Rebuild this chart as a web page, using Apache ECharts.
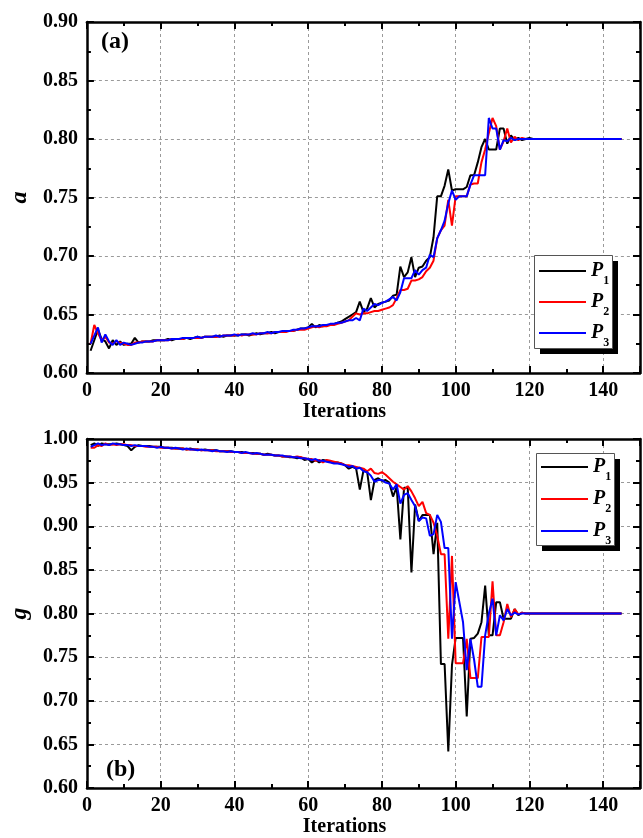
<!DOCTYPE html>
<html>
<head>
<meta charset="utf-8">
<script src="https://cdn.jsdelivr.net/npm/echarts@6/dist/echarts.min.js"></script>
<style>
  html, body { margin: 0; padding: 0; background: #fff; }
  #chart { width: 643px; height: 838px; }
</style>
</head>
<body>
<div id="chart"></div>
<script>
// Convergence of parameters a and g over the iterations for three runs P1, P2, P3.
const seriesNames = ['P1', 'P2', 'P3'];
const lineColors = ['#000000', '#ff0000', '#0000ff'];
const xTickLabels = [0, 20, 40, 60, 80, 100, 120, 140];

// (a) parameter a, iterations 1..145
const aP1 = [
  0.619, 0.628, 0.637, 0.629, 0.627, 0.621, 0.628, 0.624, 0.627, 0.624,
  0.625, 0.625, 0.630, 0.626, 0.627, 0.627, 0.627, 0.628, 0.628, 0.628,
  0.628, 0.629, 0.628, 0.629, 0.629, 0.629, 0.630, 0.629, 0.630, 0.631,
  0.630, 0.631, 0.631, 0.631, 0.631, 0.632, 0.631, 0.632, 0.632, 0.632,
  0.632, 0.633, 0.633, 0.632, 0.633, 0.634, 0.633, 0.634, 0.634, 0.635,
  0.634, 0.635, 0.635, 0.636, 0.636, 0.636, 0.637, 0.638, 0.638, 0.639,
  0.642, 0.639, 0.641, 0.640, 0.641, 0.641, 0.642, 0.643, 0.644, 0.646,
  0.648, 0.650, 0.652, 0.661, 0.652, 0.655, 0.664, 0.656, 0.659, 0.660,
  0.661, 0.662, 0.666, 0.667, 0.691, 0.682, 0.686, 0.699, 0.682, 0.690,
  0.691, 0.696, 0.699, 0.716, 0.751, 0.751, 0.760, 0.774, 0.756, 0.757,
  0.757, 0.757, 0.759, 0.769, 0.769, 0.780, 0.793, 0.800, 0.791, 0.791,
  0.791, 0.809, 0.809, 0.796, 0.803, 0.799, 0.801, 0.799, 0.800, 0.801,
  0.800, 0.800, 0.800, 0.800, 0.800, 0.800, 0.800, 0.800, 0.800, 0.800,
  0.800, 0.800, 0.800, 0.800, 0.800, 0.800, 0.800, 0.800, 0.800, 0.800,
  0.800, 0.800, 0.800, 0.800, 0.800
];
const aP2 = [
  0.625, 0.641, 0.634, 0.628, 0.631, 0.626, 0.625, 0.627, 0.626, 0.625,
  0.624, 0.624, 0.626, 0.626, 0.627, 0.627, 0.627, 0.627, 0.628, 0.628,
  0.628, 0.628, 0.629, 0.629, 0.629, 0.629, 0.630, 0.630, 0.630, 0.630,
  0.630, 0.631, 0.631, 0.631, 0.631, 0.631, 0.632, 0.632, 0.632, 0.632,
  0.633, 0.632, 0.633, 0.633, 0.633, 0.633, 0.634, 0.634, 0.634, 0.634,
  0.635, 0.635, 0.635, 0.635, 0.636, 0.636, 0.637, 0.637, 0.637, 0.638,
  0.639, 0.640, 0.639, 0.640, 0.640, 0.641, 0.641, 0.642, 0.643, 0.644,
  0.645, 0.648, 0.651, 0.650, 0.651, 0.651, 0.652, 0.653, 0.653, 0.654,
  0.655, 0.656, 0.658, 0.664, 0.671, 0.671, 0.672, 0.679, 0.679, 0.680,
  0.682, 0.687, 0.690, 0.696, 0.715, 0.722, 0.726, 0.748, 0.726, 0.751,
  0.751, 0.751, 0.751, 0.761, 0.762, 0.762, 0.780, 0.791, 0.805, 0.818,
  0.811, 0.791, 0.798, 0.809, 0.797, 0.802, 0.799, 0.801, 0.800, 0.800,
  0.800, 0.800, 0.800, 0.800, 0.800, 0.800, 0.800, 0.800, 0.800, 0.800,
  0.800, 0.800, 0.800, 0.800, 0.800, 0.800, 0.800, 0.800, 0.800, 0.800,
  0.800, 0.800, 0.800, 0.800, 0.800
];
const aP3 = [
  0.625, 0.632, 0.639, 0.626, 0.633, 0.627, 0.624, 0.628, 0.624, 0.626,
  0.625, 0.624, 0.625, 0.626, 0.626, 0.627, 0.627, 0.627, 0.628, 0.628,
  0.628, 0.628, 0.629, 0.629, 0.629, 0.630, 0.630, 0.630, 0.630, 0.631,
  0.630, 0.631, 0.631, 0.631, 0.632, 0.631, 0.632, 0.632, 0.632, 0.633,
  0.632, 0.633, 0.633, 0.633, 0.634, 0.633, 0.634, 0.634, 0.635, 0.634,
  0.635, 0.635, 0.636, 0.636, 0.636, 0.637, 0.637, 0.638, 0.638, 0.639,
  0.640, 0.640, 0.640, 0.641, 0.641, 0.642, 0.642, 0.643, 0.643, 0.644,
  0.645, 0.645, 0.647, 0.645, 0.655, 0.653, 0.656, 0.659, 0.658, 0.660,
  0.661, 0.663, 0.665, 0.662, 0.669, 0.681, 0.681, 0.681, 0.688, 0.684,
  0.688, 0.690, 0.701, 0.699, 0.715, 0.722, 0.730, 0.745, 0.756, 0.748,
  0.751, 0.751, 0.751, 0.761, 0.769, 0.769, 0.769, 0.769, 0.818, 0.809,
  0.809, 0.791, 0.799, 0.798, 0.801, 0.799, 0.800, 0.800, 0.800, 0.800,
  0.800, 0.800, 0.800, 0.800, 0.800, 0.800, 0.800, 0.800, 0.800, 0.800,
  0.800, 0.800, 0.800, 0.800, 0.800, 0.800, 0.800, 0.800, 0.800, 0.800,
  0.800, 0.800, 0.800, 0.800, 0.800
];

// (b) parameter g, iterations 1..145
const gP1 = [
  0.993, 0.995, 0.992, 0.995, 0.994, 0.994, 0.994, 0.995, 0.994, 0.993,
  0.992, 0.987, 0.991, 0.993, 0.992, 0.992, 0.992, 0.991, 0.991, 0.991,
  0.990, 0.990, 0.990, 0.989, 0.989, 0.989, 0.988, 0.989, 0.988, 0.988,
  0.987, 0.988, 0.987, 0.987, 0.987, 0.986, 0.986, 0.986, 0.986, 0.985,
  0.985, 0.985, 0.984, 0.984, 0.984, 0.983, 0.983, 0.982, 0.983, 0.982,
  0.981, 0.981, 0.980, 0.980, 0.979, 0.979, 0.978, 0.979, 0.976, 0.977,
  0.973, 0.976, 0.973, 0.976, 0.975, 0.974, 0.973, 0.973, 0.972, 0.970,
  0.966, 0.968, 0.966, 0.942, 0.964, 0.962, 0.930, 0.953, 0.955, 0.952,
  0.953, 0.950, 0.934, 0.945, 0.885, 0.944, 0.944, 0.847, 0.925, 0.906,
  0.913, 0.913, 0.913, 0.868, 0.904, 0.742, 0.742, 0.642, 0.741, 0.772,
  0.772, 0.772, 0.682, 0.771, 0.772, 0.777, 0.790, 0.832, 0.775, 0.775,
  0.813, 0.813, 0.794, 0.794, 0.794, 0.805, 0.798, 0.801, 0.800, 0.800,
  0.800, 0.800, 0.800, 0.800, 0.800, 0.800, 0.800, 0.800, 0.800, 0.800,
  0.800, 0.800, 0.800, 0.800, 0.800, 0.800, 0.800, 0.800, 0.800, 0.800,
  0.800, 0.800, 0.800, 0.800, 0.800
];
const gP2 = [
  0.990, 0.990, 0.993, 0.992, 0.995, 0.993, 0.994, 0.993, 0.994, 0.994,
  0.993, 0.993, 0.992, 0.992, 0.992, 0.991, 0.991, 0.991, 0.991, 0.990,
  0.990, 0.990, 0.989, 0.989, 0.989, 0.989, 0.988, 0.988, 0.988, 0.988,
  0.987, 0.987, 0.987, 0.987, 0.986, 0.986, 0.986, 0.986, 0.985, 0.985,
  0.985, 0.984, 0.984, 0.984, 0.983, 0.983, 0.983, 0.982, 0.982, 0.982,
  0.981, 0.981, 0.980, 0.980, 0.980, 0.979, 0.980, 0.979, 0.978, 0.977,
  0.977, 0.975, 0.976, 0.973, 0.976, 0.975, 0.974, 0.973, 0.972, 0.970,
  0.970, 0.969, 0.968, 0.967, 0.966, 0.963, 0.966, 0.961, 0.960, 0.962,
  0.959, 0.955, 0.951, 0.948, 0.945, 0.942, 0.946, 0.940, 0.932, 0.923,
  0.928, 0.915, 0.913, 0.904, 0.889, 0.868, 0.868, 0.771, 0.866, 0.743,
  0.743, 0.743, 0.771, 0.726, 0.726, 0.726, 0.773, 0.773, 0.773, 0.837,
  0.775, 0.775, 0.790, 0.811, 0.796, 0.805, 0.799, 0.801, 0.800, 0.800,
  0.800, 0.800, 0.800, 0.800, 0.800, 0.800, 0.800, 0.800, 0.800, 0.800,
  0.800, 0.800, 0.800, 0.800, 0.800, 0.800, 0.800, 0.800, 0.800, 0.800,
  0.800, 0.800, 0.800, 0.800, 0.800
];
const gP3 = [
  0.991, 0.993, 0.995, 0.993, 0.994, 0.993, 0.995, 0.994, 0.994, 0.993,
  0.993, 0.992, 0.993, 0.992, 0.992, 0.992, 0.991, 0.991, 0.990, 0.991,
  0.990, 0.990, 0.989, 0.990, 0.989, 0.988, 0.989, 0.988, 0.988, 0.987,
  0.988, 0.987, 0.987, 0.986, 0.987, 0.986, 0.986, 0.985, 0.986, 0.985,
  0.985, 0.984, 0.985, 0.984, 0.983, 0.984, 0.983, 0.982, 0.982, 0.982,
  0.981, 0.981, 0.981, 0.980, 0.980, 0.979, 0.979, 0.978, 0.978, 0.977,
  0.976, 0.977, 0.975, 0.975, 0.974, 0.973, 0.972, 0.972, 0.971, 0.970,
  0.968, 0.969, 0.966, 0.967, 0.963, 0.962, 0.958, 0.951, 0.953, 0.953,
  0.950, 0.949, 0.942, 0.948, 0.926, 0.936, 0.938, 0.930, 0.923, 0.906,
  0.910, 0.909, 0.889, 0.891, 0.913, 0.905, 0.875, 0.875, 0.771, 0.836,
  0.813, 0.790, 0.735, 0.771, 0.747, 0.716, 0.716, 0.775, 0.800, 0.817,
  0.775, 0.798, 0.792, 0.805, 0.798, 0.801, 0.799, 0.800, 0.800, 0.800,
  0.800, 0.800, 0.800, 0.800, 0.800, 0.800, 0.800, 0.800, 0.800, 0.800,
  0.800, 0.800, 0.800, 0.800, 0.800, 0.800, 0.800, 0.800, 0.800, 0.800,
  0.800, 0.800, 0.800, 0.800, 0.800
];

const FONT = "'Liberation Serif', 'Times New Roman', Times, serif";
const AXIS_LINE = { show: true, onZero: false, lineStyle: { color: '#000', width: 2.5 } };
const GRID_LINE = { show: true, lineStyle: { color: '#9a9a9a', width: 1, type: [3, 3] } };
const tick = len => ({ show: true, inside: true, length: len, lineStyle: { color: '#000', width: 2 } });
const labelFont = { color: '#000', fontFamily: FONT, fontWeight: 'bold', fontSize: 20 };

// four x axes per panel: labelled bottom (all ticks), bottom major ticks + grid, and the mirrored top pair
function xAxesFor(gi) {
  const base = { type: 'value', gridIndex: gi, min: 0, max: 150 };
  return [
    Object.assign({}, base, {
      position: 'bottom', interval: 10, axisLine: AXIS_LINE, axisTick: tick(4), splitLine: { show: false },
      axisLabel: Object.assign({ margin: 8, formatter: v => (xTickLabels.indexOf(v) >= 0 ? String(v) : '') }, labelFont),
      name: 'Iterations', nameLocation: 'middle', nameGap: 29,
      nameTextStyle: Object.assign({ padding: [0, 38, 0, 0] }, labelFont)
    }),
    Object.assign({}, base, {
      position: 'bottom', interval: 20, axisLine: { show: false }, axisTick: tick(7),
      axisLabel: { show: false }, splitLine: GRID_LINE
    }),
    Object.assign({}, base, {
      position: 'top', interval: 10, axisLine: AXIS_LINE, axisTick: tick(4),
      axisLabel: { show: false }, splitLine: { show: false }
    }),
    Object.assign({}, base, {
      position: 'top', interval: 20, axisLine: { show: false }, axisTick: tick(7),
      axisLabel: { show: false }, splitLine: { show: false }
    })
  ];
}

function yAxesFor(gi, min, max, name, gap) {
  const base = {
    type: 'value', gridIndex: gi, min: min, max: max, interval: 0.05,
    axisLine: AXIS_LINE, axisTick: tick(7),
    minorTick: { show: true, splitNumber: 2, length: 4, lineStyle: { color: '#000', width: 2 } }
  };
  return [
    Object.assign({}, base, {
      position: 'left',
      axisLabel: Object.assign({ margin: 9, formatter: v => v.toFixed(2) }, labelFont),
      splitLine: GRID_LINE,
      name: name, nameLocation: 'middle', nameGap: gap,
      nameTextStyle: { color: '#000', fontFamily: FONT, fontStyle: 'italic', fontWeight: 'bold', fontSize: 24 }
    }),
    Object.assign({}, base, { position: 'right', axisLabel: { show: false }, splitLine: { show: false } })
  ];
}

function lineSeries(values, k, xi, yi) {
  return {
    name: seriesNames[k], type: 'line', xAxisIndex: xi, yAxisIndex: yi,
    data: values.map((v, i) => [i + 1, v]),
    symbol: 'none', showSymbol: false, smooth: false,
    lineStyle: { color: lineColors[k], width: 2 }, itemStyle: { color: lineColors[k] }
  };
}

const legendRich = {
  p: { fontFamily: FONT, fontStyle: 'italic', fontWeight: 'bold', fontSize: 20, lineHeight: 32, color: '#000' },
  s: { fontFamily: FONT, fontWeight: 'bold', fontSize: 12, lineHeight: 12, verticalAlign: 'bottom', color: '#000' }
};
function legendAt(left, top, gap) {
  return {
    data: seriesNames, orient: 'vertical', left: left, top: top, padding: 0,
    icon: 'rect', itemWidth: 47, itemHeight: 2, itemGap: gap, selectedMode: false, z: 20,
    formatter: n => '{p|' + n.charAt(0) + '}{s|' + n.slice(1) + '}',
    textStyle: { rich: legendRich }
  };
}

function legendFrame(x, y, w, h) {
  return [
    { type: 'rect', z: 10, shape: { x: x + 6, y: y + 6, width: w, height: h }, style: { fill: '#000' } },
    { type: 'rect', z: 11, shape: { x: x + 0.5, y: y + 0.5, width: w, height: h }, style: { fill: '#fff', stroke: '#555', lineWidth: 1 } }
  ];
}

const chart = echarts.init(document.getElementById('chart'), null, { renderer: 'canvas' });
chart.setOption({
  animation: false,
  backgroundColor: '#fff',
  grid: [
    { left: 82, top: 22, width: 562.5, height: 351 },
    { left: 84, top: 439, width: 562.5, height: 352 }
  ],
  xAxis: xAxesFor(0).concat(xAxesFor(1)),
  yAxis: yAxesFor(0, 0.6, 0.9, 'a', 51).concat(yAxesFor(1, 0.6, 1.0, 'g', 55)),
  legend: [legendAt(539, 261, 5), legendAt(541, 457, 6)],
  graphic: legendFrame(534, 255, 78, 93).concat(legendFrame(536, 453, 78, 92)).concat([
    { type: 'text', z: 12, style: { text: '(a)', x: 101, y: 42, verticalAlign: 'middle', textVerticalAlign: 'middle', font: 'bold 24px ' + FONT, fill: '#000' } },
    { type: 'text', z: 12, style: { text: '(b)', x: 106, y: 770, verticalAlign: 'middle', textVerticalAlign: 'middle', font: 'bold 24px ' + FONT, fill: '#000' } }
  ]),
  series: [
    lineSeries(aP1, 0, 0, 0), lineSeries(aP2, 1, 0, 0), lineSeries(aP3, 2, 0, 0),
    lineSeries(gP1, 0, 4, 2), lineSeries(gP2, 1, 4, 2), lineSeries(gP3, 2, 4, 2)
  ]
});
</script>
</body>
</html>
